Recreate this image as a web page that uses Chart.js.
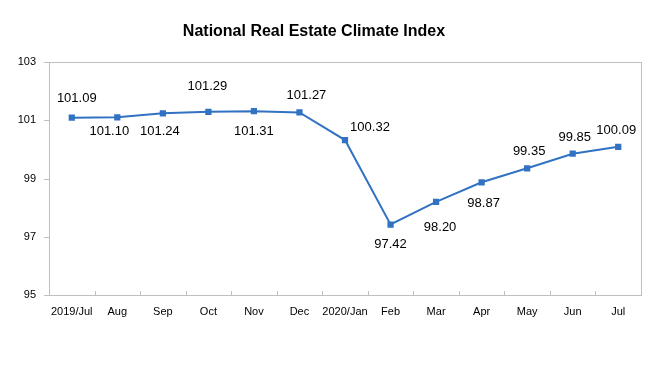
<!DOCTYPE html>
<html>
<head>
<meta charset="utf-8">
<script src="https://cdn.jsdelivr.net/npm/chart.js@4"></script>
<style>
  html, body { margin: 0; padding: 0; background: #fff; }
  #wrap { width: 659px; height: 386px; }
</style>
</head>
<body>
<div id="wrap"><canvas id="grafico"></canvas></div>
<script>
const meses = ["2019/Jul", "Aug", "Sep", "Oct", "Nov", "Dec", "2020/Jan", "Feb", "Mar", "Apr", "May", "Jun", "Jul"];
const indice = [101.09, 101.10, 101.24, 101.29, 101.31, 101.27, 100.32, 97.42, 98.20, 98.87, 99.35, 99.85, 100.09];
const ticksY = [95, 97, 99, 101, 103];
const titulo = "National Real Estate Climate Index";

// where each value label sits relative to its point (dx, dy)
const deslocRotulos = [[5, -19], [-8, 14], [-3, 18], [-1, -25], [0, 20], [7, -17], [25, -13],
  [0, 20], [4, 26], [2, 21], [2, -17], [2, -16], [-2, -16]];

const extras = {
  id: "extras",
  afterDraw(chart) {
    const ctx = chart.ctx;
    const a = chart.chartArea;
    ctx.save();
    // box round plot area
    ctx.strokeStyle = "#bfbfbf";
    ctx.lineWidth = 1;
    ctx.strokeRect(Math.round(a.left) + 0.5, Math.round(a.top) + 0.5,
      Math.round(a.right - a.left), Math.round(a.bottom - a.top));
    // y tick marks, outside
    const y = chart.scales.y;
    ticksY.forEach(v => {
      const py = Math.round(y.getPixelForValue(v)) + 0.5;
      ctx.beginPath();
      ctx.moveTo(a.left - 5, py);
      ctx.lineTo(a.left, py);
      ctx.stroke();
    });
    // x tick marks between categories, inside
    const x = chart.scales.x;
    for (let i = 1; i < meses.length; i++) {
      const px = Math.round((x.getPixelForValue(i - 1) + x.getPixelForValue(i)) / 2) + 0.5;
      ctx.beginPath();
      ctx.moveTo(px, a.bottom - 4);
      ctx.lineTo(px, a.bottom);
      ctx.stroke();
    }
    // title
    ctx.fillStyle = "#000";
    ctx.font = "bold 16px 'Liberation Sans', Arial, sans-serif";
    ctx.textAlign = "center";
    ctx.textBaseline = "middle";
    ctx.fillText(titulo, 314, 32);
    // value labels
    ctx.font = "13px 'Liberation Sans', Arial, sans-serif";
    chart.getDatasetMeta(0).data.forEach((p, i) => {
      const d = deslocRotulos[i];
      ctx.fillText(indice[i].toFixed(2), p.x + d[0], p.y + d[1]);
    });
    ctx.restore();
  }
};

new Chart(document.getElementById("grafico"), {
  type: "line",
  data: {
    labels: meses,
    datasets: [{
      data: indice,
      borderColor: "#3272c2",
      backgroundColor: "#3272c2",
      borderWidth: 2,
      pointStyle: "rect",
      pointRadius: 3,
      tension: 0
    }]
  },
  options: {
    responsive: true,
    maintainAspectRatio: false,
    animation: false,
    events: [],
    layout: { padding: { top: 62, left: 0, right: 18, bottom: 61 } },
    plugins: {
      legend: { display: false },
      title: { display: false },
      tooltip: { enabled: false }
    },
    scales: {
      x: {
        offset: true,
        grid: { display: false, drawTicks: false },
        border: { display: false },
        ticks: {
          color: "#000",
          padding: 10,
          maxRotation: 0,
          autoSkip: false,
          font: { family: "'Liberation Sans', Arial, sans-serif", size: 11 }
        },
        afterFit(s) { s.height = 30; }
      },
      y: {
        min: 95,
        max: 103,
        grid: { display: false, drawTicks: false },
        border: { display: false },
        afterBuildTicks(s) { s.ticks = ticksY.map(v => ({ value: v })); },
        ticks: {
          color: "#000",
          padding: 13,
          font: { family: "'Liberation Sans', Arial, sans-serif", size: 11 }
        },
        afterFit(s) { s.width = 49; }
      }
    }
  },
  plugins: [extras]
});
</script>
</body>
</html>
